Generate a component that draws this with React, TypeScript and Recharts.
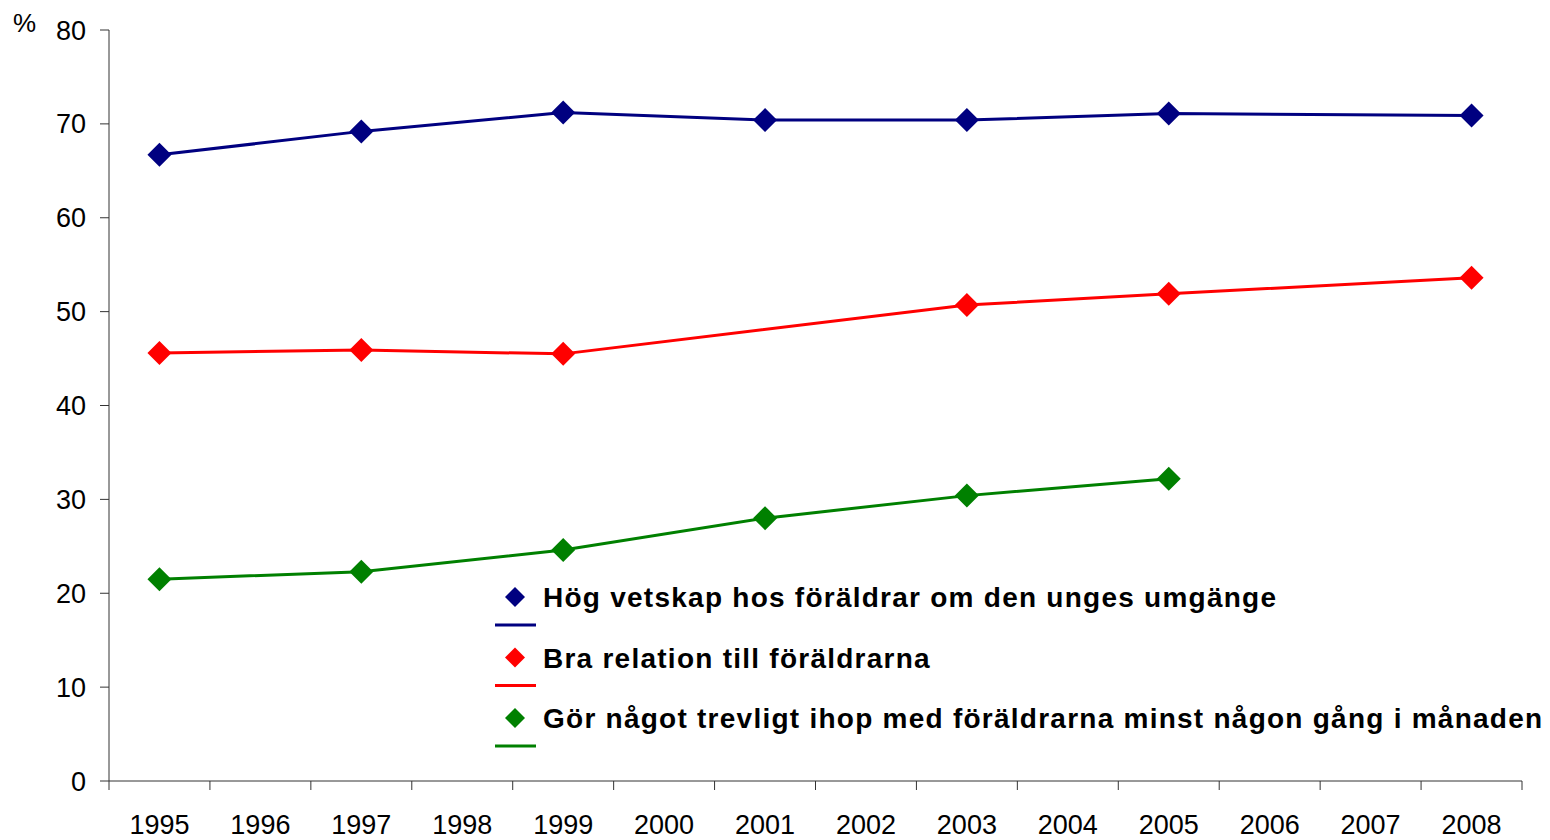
import React from "react";
import { LineChart, Line, XAxis, YAxis } from "recharts";

const years = ["1995", "1996", "1997", "1998", "1999", "2000", "2001", "2002", "2003", "2004", "2005", "2006", "2007", "2008"];
const hogVetskap = [66.7, null, 69.2, null, 71.2, null, 70.4, null, 70.4, null, 71.1, null, null, 70.9];
const braRelation = [45.6, null, 45.9, null, 45.5, null, null, null, 50.7, null, 51.9, null, null, 53.6];
const gorTrevligt = [21.5, null, 22.3, null, 24.6, null, 28.0, null, 30.4, null, 32.2, null, null, null];
const yTicks = [0, 10, 20, 30, 40, 50, 60, 70, 80];

const series = [
  { key: "hog", name: "Hög vetskap hos föräldrar om den unges umgänge", color: "#000080" },
  { key: "bra", name: "Bra relation till föräldrarna", color: "#FF0000" },
  { key: "gor", name: "Gör något trevligt ihop med föräldrarna minst någon gång i månaden", color: "#008000" },
];

const data = years.map((y, i) => ({
  idx: i,
  year: y,
  hog: hogVetskap[i],
  bra: braRelation[i],
  gor: gorTrevligt[i],
}));

// boundaries between the year categories
const boundaryTicks = years.map((_, i) => i - 0.5).concat([years.length - 0.5]);

const W = 1542;
const H = 832;
const LEFT = 101;
const RIGHT = 28;
const BAND = (W - LEFT - RIGHT) / years.length;
const FONT = "'Liberation Sans', Arial, sans-serif";

const Diamond = (props: any) => {
  const { cx, cy, stroke, value } = props;
  if (cx == null || cy == null || value == null) return null;
  const r = 12;
  return (
    <polygon
      points={`${cx},${cy - r} ${cx + r},${cy} ${cx},${cy + r} ${cx - r},${cy}`}
      fill={stroke}
      stroke="none"
    />
  );
};

const YearTick = (props: any) => {
  const { x, y, payload } = props;
  const i = payload.value + 0.5;
  if (i >= years.length) return null;
  return (
    <text x={x + BAND / 2} y={y + 42} textAnchor="middle" fontSize={27} fill="#000" fontFamily={FONT}>
      {years[i]}
    </text>
  );
};

const LegendBox = () => (
  <svg
    width={1060}
    height={185}
    style={{ position: "absolute", left: 479, top: 567, overflow: "visible" }}
  >
    {series.map((s, i) => {
      const y0 = i * 60.5;
      return (
        <g key={s.key}>
          <polygon points={`28,${y0 + 12} 38,${y0 + 22} 28,${y0 + 32} 18,${y0 + 22}`} fill={s.color} />
          <line x1={8} x2={49} y1={y0 + 50} y2={y0 + 50} stroke={s.color} strokeWidth={3} />
          <text
            x={56}
            y={y0 + 32}
            fontSize={28}
            fontWeight="bold"
            letterSpacing={1.25}
            fill="#000"
            fontFamily={FONT}
          >
            {s.name}
          </text>
        </g>
      );
    })}
  </svg>
);

export default function App() {
  return (
    <div style={{ position: "relative", width: W, height: H, fontFamily: FONT }}>
      <div style={{ position: "absolute", left: 5, top: 0, fontSize: 26, lineHeight: "30px", color: "#000" }}>%</div>
      <LineChart width={W} height={H} data={data} margin={{ top: 22, right: RIGHT, left: 0, bottom: 0 }}>
        <XAxis
          dataKey="idx"
          type="number"
          domain={[-0.5, years.length - 0.5]}
          ticks={boundaryTicks}
          interval={0}
          height={59}
          stroke="#333"
          tickLine={{ stroke: "#333" }}
          tickSize={9}
          tick={<YearTick />}
        />
        <YAxis
          domain={[0, 80]}
          ticks={yTicks}
          interval={0}
          width={LEFT}
          stroke="#333"
          tickSize={9}
          tickMargin={14}
          tick={{ fontSize: 27, fill: "#000", fontFamily: FONT }}
        />
        {series.map((s) => (
          <Line
            key={s.key}
            dataKey={s.key}
            name={s.name}
            stroke={s.color}
            strokeWidth={3}
            connectNulls
            type="linear"
            dot={<Diamond />}
            activeDot={false}
            isAnimationActive={false}
          />
        ))}
      </LineChart>
      <LegendBox />
    </div>
  );
}
